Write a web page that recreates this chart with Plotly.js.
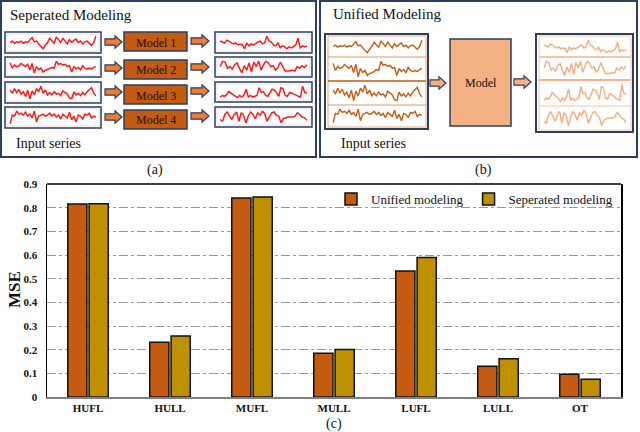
<!DOCTYPE html>
<html>
<head>
<meta charset="utf-8">
<script src="https://cdn.plot.ly/plotly-3.0.1.min.js"></script>
<style>html,body{margin:0;padding:0;background:#fff;}#chart{width:640px;height:432px;}</style>
</head>
<body>
<div id="chart"></div>
<script>
// ---------- bar chart data (c) ----------
const categories = ["HUFL", "HULL", "MUFL", "MULL", "LUFL", "LULL", "OT"];
const unifiedMSE   = [0.815, 0.231, 0.841, 0.185, 0.532, 0.130, 0.096];
const seperatedMSE = [0.817, 0.258, 0.845, 0.201, 0.589, 0.162, 0.075];
const yTickVals = [0, 0.1, 0.2, 0.3, 0.4, 0.5, 0.6, 0.7, 0.8, 0.9];
const yTickText = ["0", "0.1", "0.2", "0.3", "0.4", "0.5", "0.6", "0.7", "0.8", "0.9"];

// ---------- schematic series (a), (b) ----------
const input1 = [0.5,0.6,0.45,0.55,0.5,0.6,0.45,0.55,0.5,0.65,0.85,0.55,0.6,0.4,0.2,0.05,0.3,0.5,0.8,0.6,0.45,0.9,0.7,0.5,0.8,0.6,0.4,0.7,0.5,0.65,0.75,0.5,0.6,0.4,0.55,0.6,0.45,0.3,0.5,0.95];
const input2 = [0.75,0.4,0.6,0.5,0.55,0.7,0.6,0.5,0.65,0.3,0.7,0.1,0.5,0.3,0.4,0.15,0.25,0.3,0.35,0.45,0.4,0.85,0.65,0.7,0.6,0.65,0.5,0.55,0.15,0.5,0.35,0.45,0.3,0.55,0.4,0.35,0.4,0.35,0.45,0.5];
const input3 = [0.7,0.5,0.8,0.55,0.75,0.45,0.6,0.3,0.7,0.15,0.65,0.4,0.8,0.6,0.95,0.5,0.7,0.4,0.55,0.4,0.6,0.45,0.5,0.35,0.65,0.55,0.45,0.2,0.15,0.6,0.4,0.5,0.35,0.55,0.4,0.6,0.75,0.85,0.5,0.35];
const input4 = [0.1,0.55,0.5,0.75,0.6,0.65,0.55,0.7,0.5,0.6,0.4,0.75,0.2,0.5,0.55,0.6,0.5,0.55,0.65,0.5,0.6,0.45,0.55,0.35,0.6,0.5,0.4,0.7,0.3,0.5,0.2,0.55,0.5,0.35,0.6,0.55,0.65,0.4,0.5,0.45];
const output1 = [0.7,0.65,0.6,0.75,0.7,0.6,0.55,0.6,0.5,0.55,0.5,0.3,0.6,0.45,0.55,0.5,0.6,0.65,0.7,0.55,0.6,0.95,0.7,0.65,0.5,0.45,0.6,0.35,0.45,0.4,0.3,0.4,0.35,0.45,0.5,0.85,0.35,0.45,0.4,0.45];
const output2 = [0.5,0.8,0.75,0.4,0.5,0.35,0.6,0.7,0.4,0.15,0.55,0.3,0.7,0.2,0.75,0.5,0.8,0.3,0.6,0.8,0.7,0.5,0.55,0.3,0.45,0.75,0.5,0.25,0.25,0.25,0.3,0.25,0.5,0.4,0.55,0.45,0.6];
const output3 = [0.2,0.3,0.25,0.35,0.55,0.45,0.35,0.3,0.15,0.3,0.2,0.35,0.7,0.2,0.3,0.2,0.25,0.3,0.8,0.5,0.55,0.3,0.25,0.45,0.7,0.65,0.5,0.25,0.8,0.75,0.3,0.25,0.5,0.45,0.4,0.3,0.25,0.2,0.9,0.5,0.45];
const output4 = [0.3,0.2,0.6,0.75,0.5,0.3,0.6,0.75,0.2,0.7,0.55,0.1,0.5,0.75,0.6,0.35,0.7,0.55,0.8,0.65,0.2,0.45,0.7,0.75,0.55,0.5,0.1,0.35,0.4,0.45,0.45,0.45,0.5,0.7,0.6,0.45,0.4,0.25];
const inputs = [input1, input2, input3, input4];
const outputs = [output1, output2, output3, output4];
const modelNames = ["Model 1", "Model 2", "Model 3", "Model 4"];

// ---------- geometry helpers ----------
const W = 640, H = 432;
const px = x => x / W;
const py = y => 1 - y / H;
const SERIF = "Liberation Serif";
const NAVY = "#2E3E5C";
const C_UNI = "#C55A11", C_SEP = "#BF9000";
const C_ARROW_A = "#ED7D31", C_LIGHT = "#F4B183";

const shapes = [];
const annotations = [];
const data = [];
const layout = {
  width: W, height: H,
  margin: {l: 0, r: 0, t: 0, b: 0},
  paper_bgcolor: "#fff", plot_bgcolor: "rgba(0,0,0,0)",
  font: {family: SERIF, color: "#111"},
  barmode: "group", bargap: 0.48, bargroupgap: 0.1,
  showlegend: true,
  legend: {orientation: "h", x: px(618), xanchor: "right", y: py(199), yanchor: "middle",
           bgcolor: "rgba(0,0,0,0)", font: {family: SERIF, size: 13, color: "#111"},
           traceorder: "normal", itemwidth: 30, tracegroupgap: 0},
  xaxis: {domain: [px(47), px(621)], type: "category", showline: true, linecolor: "#808080", linewidth: 2,
          ticks: "", showgrid: false, tickfont: {family: SERIF, size: 11, color: "#111", weight: "bold"},
          fixedrange: true},
  yaxis: {domain: [py(397), py(184)], range: [0, 0.9], tickvals: yTickVals, ticktext: yTickText,
          showline: true, linecolor: "#000", linewidth: 1.5, mirror: true, zeroline: false,
          showgrid: true, gridcolor: "#9a9a9a", griddash: "dashdot", gridwidth: 1,
          ticks: "", ticklabelstandoff: 6,
          tickfont: {family: SERIF, size: 11, color: "#111", weight: "bold"}, fixedrange: true},
  shapes: shapes, annotations: annotations
};

// bars
data.push({type: "bar", name: "Unified modeling", x: categories, y: unifiedMSE,
           marker: {color: C_UNI, line: {color: "#111", width: 1.5}}, hoverinfo: "y"});
data.push({type: "bar", name: "Seperated modeling", x: categories, y: seperatedMSE,
           marker: {color: C_SEP, line: {color: "#111", width: 1.5}}, hoverinfo: "y"});

// top frame line of plot (c)
shapes.push({type: "line", xref: "paper", yref: "paper", x0: px(47), x1: px(621), y0: py(184), y1: py(184),
             line: {color: "#000", width: 1.5}});

function rect(x0, y0, x1, y1, lineColor, lineWidth, fill, layer) {
  shapes.push({type: "rect", xref: "paper", yref: "paper", x0: px(x0), x1: px(x1), y0: py(y1), y1: py(y0),
               line: {color: lineColor, width: lineWidth}, fillcolor: fill || "rgba(0,0,0,0)", layer: layer || "below"});
}
function hline(x0, x1, y, color, w) {
  shapes.push({type: "line", xref: "paper", yref: "paper", x0: px(x0), x1: px(x1), y0: py(y), y1: py(y),
               line: {color: color, width: w}, layer: "below"});
}
function arrow(x0, x1, yc, fill) {
  const sh = 3.2, hh = 6.2, hl = 7;
  const pts = [[x0, yc - sh], [x1 - hl, yc - sh], [x1 - hl, yc - hh], [x1, yc], [x1 - hl, yc + hh], [x1 - hl, yc + sh], [x0, yc + sh]];
  const path = "M " + pts.map(p => px(p[0]).toFixed(5) + "," + py(p[1]).toFixed(5)).join(" L ") + " Z";
  shapes.push({type: "path", xref: "paper", yref: "paper", path: path, fillcolor: fill,
               line: {color: NAVY, width: 1.2}, layer: "above"});
}
function text(x, y, str, size, anchor, extra) {
  annotations.push(Object.assign({xref: "paper", yref: "paper", x: px(x), y: py(y), text: str, showarrow: false,
                   xanchor: anchor || "center", yanchor: "middle",
                   font: {family: SERIF, size: size, color: "#111"}}, extra || {}));
}
let axN = 2;
function mini(series, x0, y0, x1, y1, color, width) {
  const k = axN++;
  layout["xaxis" + k] = {domain: [px(x0), px(x1)], range: [-0.5, series.length - 0.5], visible: false,
                         anchor: "y" + k, fixedrange: true};
  layout["yaxis" + k] = {domain: [py(y1), py(y0)], autorange: true, visible: false,
                         anchor: "x" + k, fixedrange: true};
  data.push({type: "scatter", mode: "lines", y: series, xaxis: "x" + k, yaxis: "y" + k, cliponaxis: false,
             line: {color: color, width: width || 1.5}, showlegend: false, hoverinfo: "skip"});
}

// ---------- panel (a) ----------
rect(1, 1, 316, 157, NAVY, 2);
text(8, 15, "Seperated Modeling", 15, "left");
text(14, 143, "Input series", 14, "left");
text(155, 170, "(a)", 14);
const inRows = [[32, 53], [57, 77], [82, 103], [107, 128]];
const outRows = [[32, 53], [57, 77], [82, 102], [107, 127]];
const modelRows = [[32, 51], [60, 79], [85, 104], [110, 129]];
const arrL = [42, 68, 92, 117], arrR = [41, 67, 91, 116];
for (let i = 0; i < 4; i++) {
  const r = inRows[i], o = outRows[i], m = modelRows[i];
  rect(5, r[0], 101, r[1], NAVY, 1.5, "#fff");
  rect(7, r[0] + 2, 99, r[1] - 2, "#dcdcdc", 0.8);
  mini(inputs[i], 9, r[0] + 3.5, 97, r[1] - 3.5, "#FF1A1A", 1.5);
  arrow(105, 122, arrL[i], C_ARROW_A);
  rect(124, m[0], 187, m[1], NAVY, 1.5, C_UNI, "above");
  text(155.5, (m[0] + m[1]) / 2 + 1, modelNames[i], 12);
  arrow(191, 209, arrR[i], C_ARROW_A);
  rect(215, o[0], 312, o[1], NAVY, 1.5, "#fff");
  rect(217, o[0] + 2, 310, o[1] - 2, "#dcdcdc", 0.8);
  mini(outputs[i], 219, o[0] + 3.5, 308, o[1] - 3.5, "#FF1A1A", 1.5);
}

// ---------- panel (b) ----------
rect(320, 1, 637, 157, NAVY, 2);
text(331, 14, "Unified Modeling", 15, "left");
text(339, 144, "Input series", 14, "left");
text(483, 170, "(b)", 14);
rect(325, 34, 428, 129, NAVY, 2, "#fff");
rect(328, 36, 426, 127, "#F0A878", 1);
const bIn = [[36, 57], [57, 81], [81, 105], [105, 127]];
hline(328, 426, 57, "#E8956A", 1.2);
hline(328, 426, 81, "#C55A11", 1.5);
hline(328, 426, 105, "#E8956A", 1.2);
for (let i = 0; i < 4; i++) mini(inputs[i], 332, bIn[i][0] + 3.5, 423, bIn[i][1] - 3.5, "#C55A11", 1.4);
arrow(430, 446, 83, C_LIGHT);
rect(450, 39, 511, 126, NAVY, 1.5, C_LIGHT, "above");
text(480.5, 83, "Model", 12);
arrow(514, 531, 82, C_LIGHT);
rect(536, 34, 633, 132, NAVY, 2, "#fff");
rect(539, 36, 631, 130, "#F6C5A4", 1);
const bOut = [[36, 57], [57, 80], [80, 106], [106, 130]];
hline(539, 631, 57, "#F2B28A", 1.5);
hline(539, 631, 80, "#F2B28A", 2);
hline(539, 631, 106, "#F6C5A4", 1.2);
for (let i = 0; i < 4; i++) mini(outputs[i], 543, bOut[i][0] + 3.5, 627, bOut[i][1] - 3.5, C_LIGHT, 1.5);

// ---------- panel (c) labels ----------
text(14, 290, "MSE", 17, "center", {textangle: -90, font: {family: SERIF, size: 17, color: "#111", weight: "bold"}});
text(334, 424, "(c)", 14);

Plotly.newPlot("chart", data, layout, {staticPlot: true, displayModeBar: false});
</script>
</body>
</html>
